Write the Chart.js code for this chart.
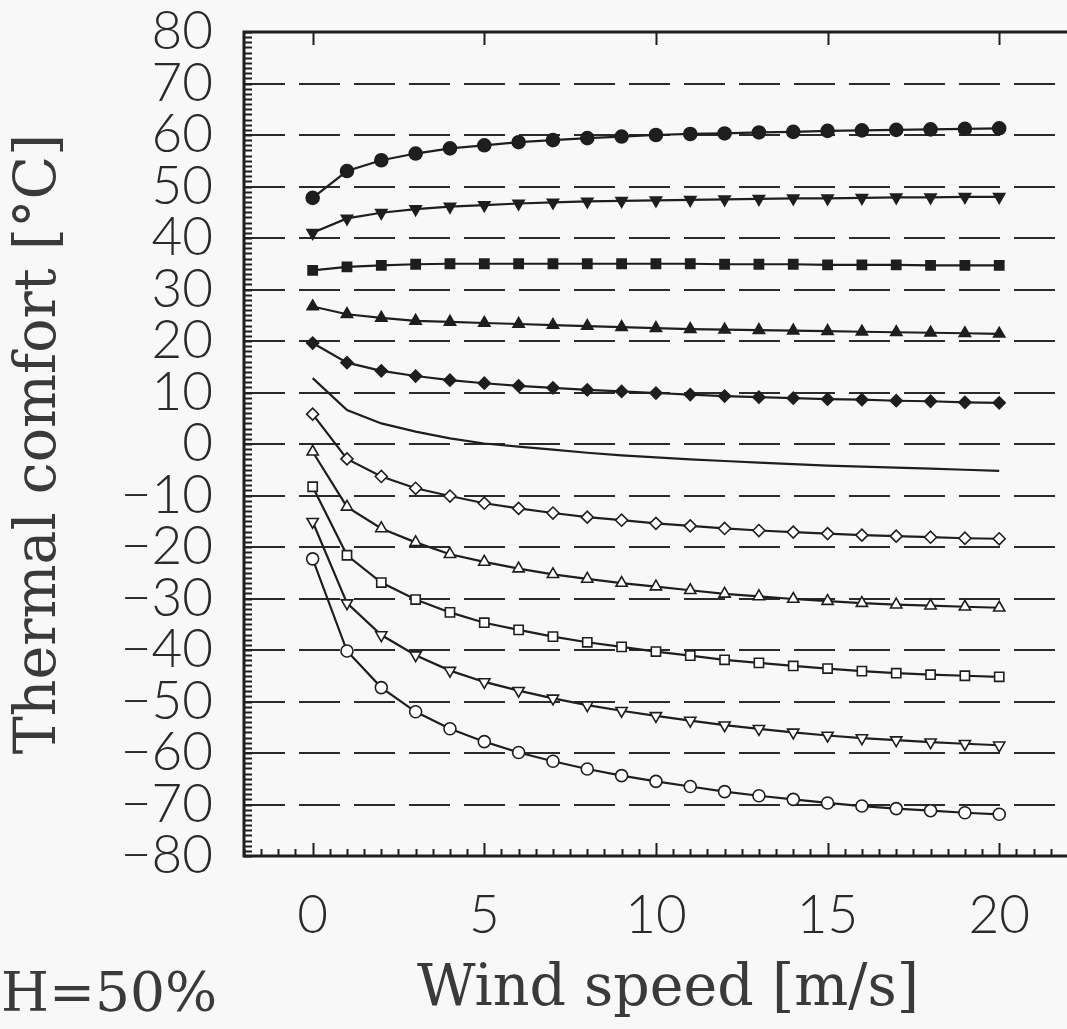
<!DOCTYPE html>
<html>
<head>
<meta charset="utf-8">
<title>Thermal comfort vs wind speed</title>
<script src="https://cdn.jsdelivr.net/npm/chart.js"></script>
<style>
    html, body { margin: 0; padding: 0; background: #f8f8f8; overflow: hidden; }
    #wrap { width: 1100px; height: 1029px; }
</style>
</head>
<body>
<div id="wrap"><canvas id="grafico" width="1100" height="1029"></canvas></div>
<script>
// datos (RH = 50%)
const velocidad = [0, 1, 2, 3, 4, 5, 6, 7, 8, 9, 10, 11, 12, 13, 14, 15, 16, 17, 18, 19, 20];

const curva1 = [47.8, 53.0, 55.1, 56.4, 57.4, 58.0, 58.6, 59.0, 59.4, 59.7, 60.0, 60.2, 60.3, 60.5, 60.6, 60.8, 60.9, 61.0, 61.1, 61.2, 61.3];
const curva2 = [41.0, 43.8, 44.9, 45.6, 46.1, 46.4, 46.7, 46.9, 47.1, 47.2, 47.3, 47.4, 47.5, 47.6, 47.7, 47.7, 47.8, 47.9, 47.9, 48.0, 48.0];
const curva3 = [33.7, 34.4, 34.7, 34.9, 35.0, 35.0, 35.0, 35.0, 35.0, 35.0, 35.0, 35.0, 34.9, 34.9, 34.9, 34.8, 34.8, 34.8, 34.7, 34.7, 34.7];
const curva4 = [26.7, 25.2, 24.5, 23.9, 23.7, 23.5, 23.3, 23.1, 22.9, 22.7, 22.5, 22.3, 22.2, 22.1, 22.0, 21.9, 21.8, 21.7, 21.6, 21.5, 21.4];
const curva5 = [19.6, 15.8, 14.2, 13.2, 12.4, 11.8, 11.3, 10.9, 10.5, 10.2, 9.9, 9.6, 9.3, 9.1, 8.9, 8.7, 8.6, 8.4, 8.3, 8.1, 8.0];
const curva6 = [12.8, 6.6, 4.0, 2.4, 1.1, 0.1, -0.5, -1.1, -1.7, -2.2, -2.6, -3.0, -3.3, -3.6, -3.9, -4.2, -4.4, -4.6, -4.8, -5.0, -5.2];
const curva7 = [5.8, -2.9, -6.3, -8.6, -10.1, -11.5, -12.5, -13.4, -14.2, -14.8, -15.4, -15.9, -16.4, -16.8, -17.1, -17.4, -17.7, -17.9, -18.1, -18.3, -18.4];
const curva8 = [-1.5, -12.2, -16.4, -19.1, -21.4, -22.9, -24.2, -25.3, -26.2, -27.0, -27.7, -28.4, -29.1, -29.6, -30.1, -30.5, -30.9, -31.2, -31.4, -31.6, -31.8];
const curva9 = [-8.3, -21.6, -26.9, -30.2, -32.7, -34.7, -36.1, -37.4, -38.5, -39.4, -40.3, -41.1, -41.9, -42.5, -43.1, -43.6, -44.1, -44.5, -44.8, -45.0, -45.2];
const curva10 = [-15.1, -30.9, -37.1, -41.0, -44.0, -46.2, -47.9, -49.4, -50.7, -51.8, -52.8, -53.7, -54.6, -55.3, -56.0, -56.6, -57.1, -57.5, -57.9, -58.2, -58.5];
const curva11 = [-22.3, -40.2, -47.3, -52.0, -55.3, -57.8, -59.9, -61.6, -63.1, -64.4, -65.5, -66.5, -67.5, -68.3, -69.0, -69.7, -70.3, -70.8, -71.2, -71.6, -71.9];

const ticksX = [0, 5, 10, 15, 20];
const ticksY = [80, 70, 60, 50, 40, 30, 20, 10, 0, -10, -20, -30, -40, -50, -60, -70, -80];

const tituloX = "Wind speed [m/s]";
const tituloY = "Thermal comfort [\u00B0C]";
const notaHumedad = "H=50%";

const negro = "#1e1e1e";
const fuenteTitulo = "'DejaVu Serif', 'Liberation Serif', serif";
const fuenteTicks = "Lato, 'DejaVu Sans', sans-serif";

function serie(nombre, valores, forma, relleno, radio, rotacion) {
    return {
        label: nombre,
        data: velocidad.map((v, i) => ({ x: v, y: valores[i] })),
        borderColor: negro,
        borderWidth: 2.2,
        tension: 0,
        pointStyle: forma,
        pointRadius: radio,
        pointRotation: rotacion || 0,
        pointBackgroundColor: relleno ? negro : "#ffffff",
        pointBorderColor: negro,
        pointBorderWidth: 1.6
    };
}

// marcas internas y marco del grafico
const marcoPlugin = {
    id: "marco",
    afterDatasetsDraw(chart) {
        const ctx = chart.ctx;
        const area = chart.chartArea;
        const sx = chart.scales.x;
        const sy = chart.scales.y;
        ctx.save();
        ctx.strokeStyle = negro;

        // marco
        ctx.lineWidth = 3;
        ctx.beginPath();
        ctx.moveTo(area.right + 5, area.top);
        ctx.lineTo(area.left, area.top);
        ctx.lineTo(area.left, area.bottom);
        ctx.lineTo(area.right + 5, area.bottom);
        ctx.stroke();

        // marcas menores eje y (cada 1)
        ctx.lineWidth = 2;
        ctx.beginPath();
        for (let v = -80; v <= 80; v++) {
            const py = Math.round(sy.getPixelForValue(v)) + 0.5;
            ctx.moveTo(area.left, py);
            ctx.lineTo(area.left + 8, py);
        }
        ctx.stroke();

        // marcas eje x (cada 0.5), mayores cada 5
        ctx.lineWidth = 2;
        ctx.beginPath();
        for (let k = -4; k <= 45; k++) {
            const v = k / 2;
            const px = Math.round(sx.getPixelForValue(v)) + 0.5;
            if (px > area.right) break;
            const largo = (v % 5 === 0) ? 13 : 7;
            ctx.moveTo(px, area.bottom);
            ctx.lineTo(px, area.bottom - largo);
        }
        ticksX.forEach((v) => {
            const px = Math.round(sx.getPixelForValue(v)) + 0.5;
            ctx.moveTo(px, area.top);
            ctx.lineTo(px, area.top + 13);
        });
        ctx.stroke();

        // nota de humedad
        ctx.fillStyle = "#3a3a3a";
        ctx.font = "55px " + fuenteTitulo;
        ctx.textAlign = "left";
        ctx.textBaseline = "alphabetic";
        ctx.fillText(notaHumedad, 1, 1011);
        ctx.restore();
    }
};

const ctx = document.getElementById("grafico").getContext("2d");
const grafico = new Chart(ctx, {
    type: "line",
    data: {
        datasets: [
            serie("Curva 1", curva1, "circle", true, 6.5),
            serie("Curva 2", curva2, "triangle", true, 6.5, 180),
            serie("Curva 3", curva3, "rect", true, 6.5),
            serie("Curva 4", curva4, "triangle", true, 6.5),
            serie("Curva 5", curva5, "rectRot", true, 6),
            serie("Curva 6", curva6, "circle", true, 0),
            serie("Curva 7", curva7, "rectRot", false, 6),
            serie("Curva 8", curva8, "triangle", false, 6.5),
            serie("Curva 9", curva9, "rect", false, 6.5),
            serie("Curva 10", curva10, "triangle", false, 6.5, 180),
            serie("Curva 11", curva11, "circle", false, 6)
        ]
    },
    options: {
        responsive: false,
        animation: false,
        layout: { padding: { top: 32, right: 0, left: 0, bottom: 0 } },
        plugins: {
            legend: { display: false },
            tooltip: { enabled: false }
        },
        scales: {
            x: {
                type: "linear",
                min: -2,
                max: 22.7,
                afterBuildTicks: (escala) => { escala.ticks = ticksX.map((v) => ({ value: v })); },
                afterFit: (escala) => {
                    escala.height = 1029 - 856;
                    escala.paddingLeft = 0;
                    escala.paddingRight = 0;
                },
                grid: { display: false, drawTicks: false },
                border: { display: false },
                ticks: {
                    color: "#2a2a2a",
                    padding: 28,
                    maxRotation: 0,
                    autoSkip: false,
                    font: { family: fuenteTicks, size: 53, weight: 300 }
                },
                title: {
                    display: true,
                    text: tituloX,
                    color: "#3a3a3a",
                    padding: { top: 0, bottom: 5 },
                    font: { family: fuenteTitulo, size: 57 }
                }
            },
            y: {
                min: -80,
                max: 80,
                afterBuildTicks: (escala) => { escala.ticks = ticksY.map((v) => ({ value: v })); },
                afterFit: (escala) => {
                    escala.width = 244;
                    escala.paddingTop = 0;
                    escala.paddingBottom = 0;
                },
                grid: {
                    drawTicks: false,
                    lineWidth: 2,
                    color: (c) => (c.tick && Math.abs(c.tick.value) < 80) ? "#2a2a2a" : "rgba(0,0,0,0)"
                },
                border: { display: false, dash: [41, 14] },
                ticks: {
                    color: "#2a2a2a",
                    padding: 31,
                    autoSkip: false,
                    font: { family: fuenteTicks, size: 53, weight: 300 },
                    callback: (v) => v < 0 ? "\u2212" + Math.abs(v) : String(v)
                },
                title: {
                    display: true,
                    text: tituloY,
                    color: "#3a3a3a",
                    padding: { top: 6, bottom: 0 },
                    font: { family: fuenteTitulo, size: 57 }
                }
            }
        }
    },
    plugins: [marcoPlugin]
});
</script>
</body>
</html>
